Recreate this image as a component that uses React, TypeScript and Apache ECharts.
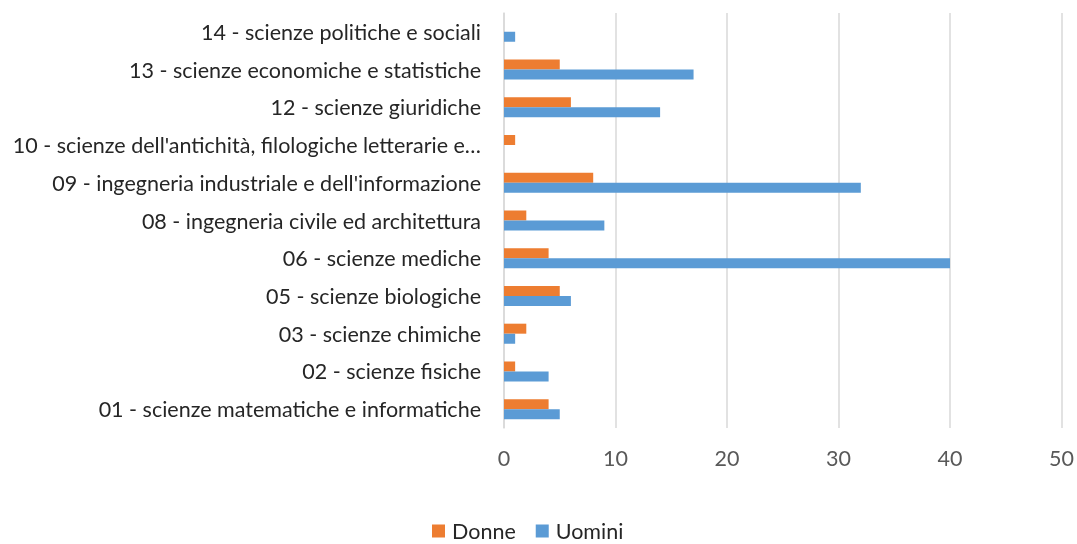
import React, { useEffect, useRef } from "react";
import * as echarts from "echarts";

const categories = [
  "01 - scienze matematiche e informatiche",
  "02 - scienze fisiche",
  "03 - scienze chimiche",
  "05 - scienze biologiche",
  "06 - scienze mediche",
  "08 - ingegneria civile ed architettura",
  "09 - ingegneria industriale e dell'informazione",
  "10 - scienze dell'antichità, filologiche letterarie e…",
  "12 - scienze giuridiche",
  "13 - scienze economiche e statistiche",
  "14 - scienze politiche e sociali",
];
const donne = [4, 1, 2, 5, 4, 2, 8, 1, 6, 5, 0];
const uomini = [5, 4, 1, 6, 40, 9, 32, 0, 14, 17, 1];
const xTicks = { min: 0, max: 50, interval: 10 };

const FONT = "Lato, 'Open Sans', sans-serif";
const FS = 21.5;

export default function App() {
  const ref = useRef<HTMLDivElement>(null);
  useEffect(() => {
    const chart = echarts.init(ref.current!, null, { renderer: "svg" });
    chart.setOption({
      animation: false,
      textStyle: { fontFamily: FONT },
      grid: { left: 504, right: 15, top: 13, bottom: 116, containLabel: false },
      legend: {
        top: 520,
        left: 432,
        padding: 0,
        itemWidth: 13,
        itemHeight: 13,
        itemGap: 20,
        icon: "rect",
        textStyle: {
          fontSize: FS,
          lineHeight: 22,
          color: "#262626",
          fontFamily: FONT,
          padding: [0, 0, 0, 2],
        },
        data: ["Donne", "Uomini"],
      },
      xAxis: {
        type: "value",
        min: xTicks.min,
        max: xTicks.max,
        interval: xTicks.interval,
        axisLine: { show: false },
        axisTick: { show: false },
        splitLine: { lineStyle: { color: "#D9D9D9", width: 1.5 } },
        axisLabel: { fontSize: FS, color: "#595959", margin: 19, fontFamily: FONT },
      },
      yAxis: {
        type: "category",
        data: categories,
        axisLine: { show: true, lineStyle: { color: "#D9D9D9", width: 1.5 } },
        axisTick: { show: false },
        axisLabel: { fontSize: FS, color: "#262626", margin: 23, fontFamily: FONT },
      },
      series: [
        {
          name: "Donne",
          type: "bar",
          data: donne,
          barWidth: 10,
          barGap: "0%",
          itemStyle: { color: "#ED7D31" },
        },
        {
          name: "Uomini",
          type: "bar",
          data: uomini,
          barWidth: 10,
          barGap: "0%",
          itemStyle: { color: "#5B9BD5" },
        },
      ],
    });
    return () => chart.dispose();
  }, []);
  return (
    <div
      ref={ref}
      style={{ position: "fixed", left: 0, top: 0, width: 1077, height: 544 }}
    />
  );
}
